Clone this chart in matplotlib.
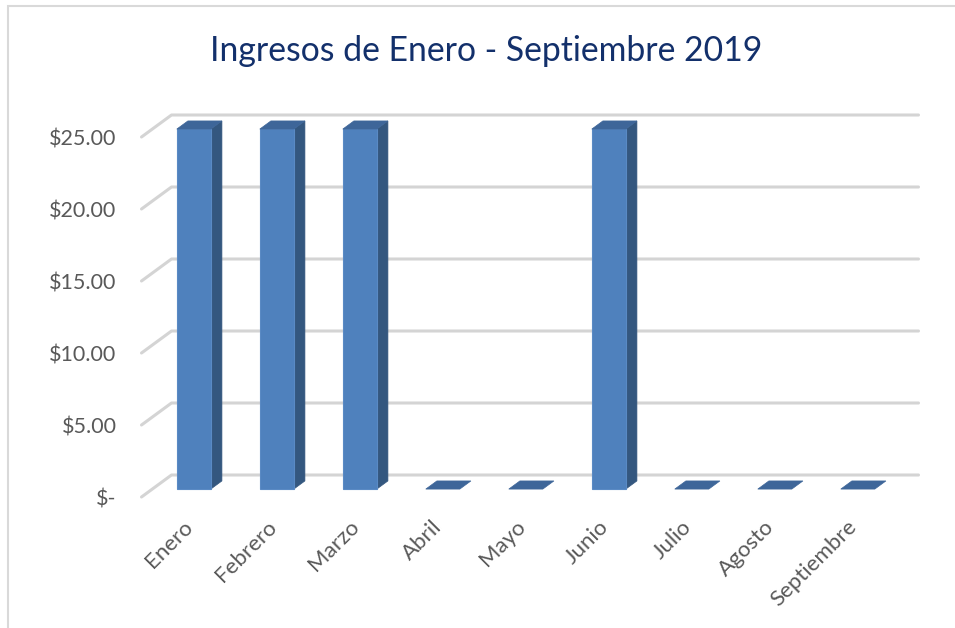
import matplotlib
matplotlib.use("Agg")
import matplotlib.pyplot as plt
import matplotlib.transforms as mtransforms
from matplotlib.patches import Polygon, Rectangle

months = ["Enero", "Febrero", "Marzo", "Abril", "Mayo", "Junio",
          "Julio", "Agosto", "Septiembre"]
values = [25, 25, 25, 0, 0, 25, 0, 0, 0]
yticks = [0, 5, 10, 15, 20, 25]
ytick_labels = ["$-", "$5.00", "$10.00", "$15.00", "$20.00", "$25.00"]
title = "Ingresos de Enero - Septiembre 2019"

plt.rcParams['font.family'] = ['Lato', 'DejaVu Sans']

W, H = 955, 628
fig = plt.figure(figsize=(W / 100, H / 100), dpi=100)
fig.patch.set_facecolor('white')

# front plane of the 3D box (pixels)
x0, x1 = 141.5, 888.5
yb, yt = 497, 137
ax = fig.add_axes([x0 / W, (H - yb) / H, (x1 - x0) / W, (yb - yt) / H])
ax.set_xlim(-0.5, len(months) - 0.5)
ax.set_ylim(0, 25)
for s in ax.spines.values():
    s.set_visible(False)
ax.patch.set_visible(False)

DEPTH = (30.0, 22.0)  # full depth offset in display pixels
D1, D2 = 0.36, 0.73   # bar depth range (fraction)
BW = 0.41             # bar width


def tr(d):
    return ax.transData + mtransforms.Affine2D().translate(DEPTH[0] * d, DEPTH[1] * d)


# gridlines: left wall diagonal + back wall
grid_col = '#D4D4D4'
xl, xr = ax.get_xlim()
for v in yticks:
    p0 = ax.transData.transform((xl, v))
    p1 = tr(1.0).transform((xl, v))
    p2 = tr(1.0).transform((xr, v))
    ax.plot([p0[0], p1[0], p2[0]], [p0[1], p1[1], p2[1]], transform=None,
            color=grid_col, lw=2.2, solid_capstyle='round',
            solid_joinstyle='round', zorder=1, clip_on=False)

front_c = '#4F81BD'
side_c = '#34577F'
top_c = '#3E6699'

for i, v in enumerate(values):
    l, r = i - BW / 2, i + BW / 2
    def P(x, y, d):
        return tr(d).transform((x, y))
    if v > 0:
        side = [P(r, 0, D1), P(r, v, D1), P(r, v, D2), P(r, 0, D2)]
        ax.add_patch(Polygon(side, closed=True, transform=None, facecolor=side_c,
                             edgecolor=side_c, lw=0.5, zorder=3, clip_on=False))
        front = [P(l, 0, D1), P(r, 0, D1), P(r, v, D1), P(l, v, D1)]
        ax.add_patch(Polygon(front, closed=True, transform=None, facecolor=front_c,
                             edgecolor='#5A8AC4', lw=0.8, zorder=4, clip_on=False))
    top = [P(l, v, D1), P(r, v, D1), P(r, v, D2), P(l, v, D2)]
    ax.add_patch(Polygon(top, closed=True, transform=None, facecolor=top_c,
                         edgecolor=top_c, lw=0.5, zorder=5, clip_on=False))

ax.set_yticks(yticks)
ax.set_yticklabels(ytick_labels)
ax.set_xticks(range(len(months)))
ax.set_xticklabels(months, rotation=45, ha='right', rotation_mode='anchor')
ax.tick_params(axis='y', length=0, pad=18, labelsize=15.5, labelcolor='#595959')
ax.tick_params(axis='x', length=0, pad=14, labelsize=16, labelcolor='#595959')

fig.text(486 / W, (H - 51) / H, title, ha='center', va='center',
         fontsize=24.3, color='#13306B')

# chart border
fig.patches.append(Rectangle((7.5 / W, -0.1), 2.0, (H - 6.5) / H + 0.1,
                             transform=fig.transFigure, fill=False,
                             edgecolor='#D9D9D9', lw=1.5))

fig.savefig('out.png', dpi=100)
